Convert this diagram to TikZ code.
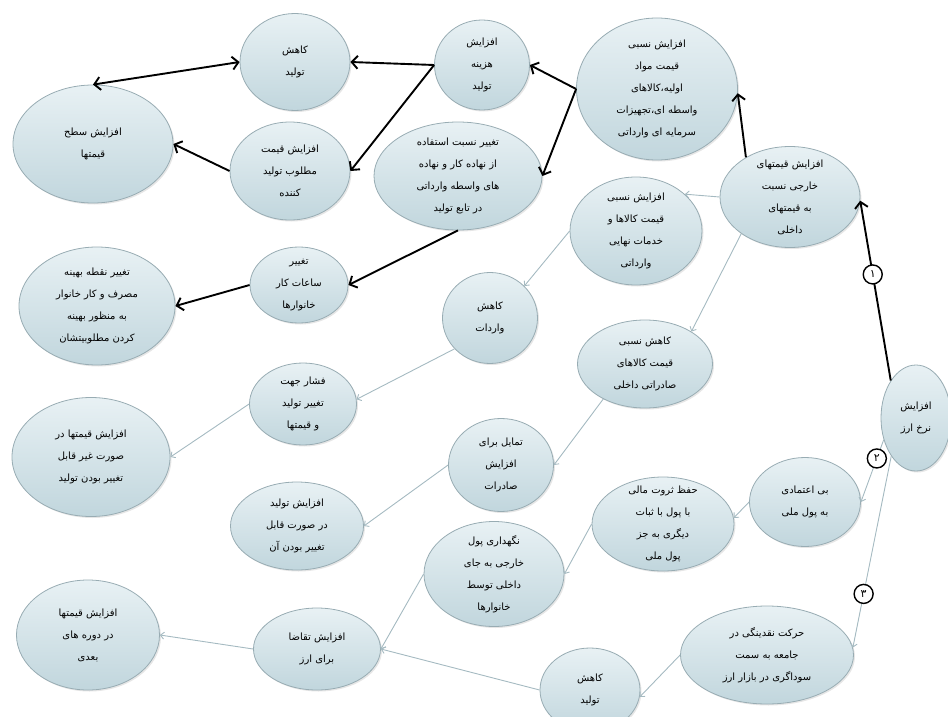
\documentclass[tikz,border=0pt]{standalone}
\usepackage{fontspec}
\usetikzlibrary{shapes.geometric,arrows.meta,shadows}
\newfontfamily\fa[Script=Arabic]{DejaVu Sans}
\TeXXeTstate=1
\newcommand{\rl}[1]{\beginR #1\endR}
\definecolor{bubtop}{HTML}{E8F1F4}
\definecolor{bubbot}{HTML}{C1D6DD}
\definecolor{bubline}{HTML}{98ACB3}
\definecolor{thinline}{HTML}{A5BAC1}
\begin{document}
\begin{tikzpicture}[x=1pt, y=-1pt,
	bub/.style 2 args={ellipse, draw=bubline, line width=0.8pt, top color=bubtop, bottom color=bubbot,
		drop shadow={opacity=0.2, shadow xshift=1.5pt, shadow yshift=-1.5pt},
		minimum width=#1, minimum height=#2, inner xsep=0pt, inner ysep=-6pt, align=center,
		font={\fa\fontsize{10}{22}\selectfont}},
	strong/.style={-{Straight Barb[length=6pt,width=13pt]}, line width=1.9pt},
	weak/.style={-{Straight Barb[length=3.5pt,width=7pt]}, draw=thinline, line width=0.9pt},
	num/.style={circle, draw=black, text=black, fill=white, line width=1.4pt, inner sep=0pt, minimum size=19pt,
		font={\fa\fontsize{11}{11}\selectfont}}]
		\useasboundingbox (0,0) rectangle (948,717);
		\node[bub={110}{97}] (kahesh1) at (295,62) {\rl{کاهش}\\\rl{تولید}};
		\node[bub={95}{90}] (hazine) at (482,65) {\rl{افزایش}\\\rl{هزینه}\\\rl{تولید}};
		\node[bub={161}{142}] (mawad) at (657,89) {\rl{افزایش نسبی}\\\rl{قیمت مواد}\\\rl{اولیه،کالاهای}\\\rl{واسطه ای،تجهیزات}\\\rl{سرمایه ای وارداتی}};
		\node[bub={160}{118}] (sath) at (93,144) {\rl{افزایش سطح}\\\rl{قیمتها}};
		\node[bub={120}{98}] (motlub) at (290,171) {\rl{افزایش قیمت}\\\rl{مطلوب تولید}\\\rl{کننده}};
		\node[bub={168}{108}] (nesbat) at (458,176) {\rl{تغییر نسبت استفاده}\\\rl{از نهاده کار و نهاده}\\\rl{های واسطه وارداتی}\\\rl{در تابع تولید}};
		\node[bub={140}{101}] (khareji) at (790,197) {\rl{افزایش قیمتهای}\\\rl{خارجی نسبت}\\\rl{به قیمتهای}\\\rl{داخلی}};
		\node[bub={132}{108}] (nahayi) at (636,231) {\rl{افزایش نسبی}\\\rl{قیمت کالاها و}\\\rl{خدمات نهایی}\\\rl{وارداتی}};
		\node[bub={98}{76}] (saat) at (299,285) {\rl{تغییر}\\\rl{ساعات کار}\\\rl{خانوارها}};
		\node[bub={156}{118}] (behine) at (97,306) {\rl{تغییر نقطه بهینه}\\\rl{مصرف و کار خانوار}\\\rl{به منظور بهینه}\\\rl{کردن مطلوبیتشان}};
		\node[bub={95}{91}] (varedat) at (490,318) {\rl{کاهش}\\\rl{واردات}};
		\node[bub={135}{88}] (saderati) at (645,364) {\rl{کاهش نسبی}\\\rl{قیمت کالاهای}\\\rl{صادراتی داخلی}};
		\node[bub={70}{106}] (nerkh) at (916,418) {\rl{افزایش}\\\rl{نرخ ارز}};
		\node[bub={107}{82}] (feshar) at (303,404) {\rl{فشار جهت}\\\rl{تغییر تولید}\\\rl{و قیمتها}};
		\node[bub={158}{119}] (gheir) at (91,457) {\rl{افزایش قیمتها در}\\\rl{صورت غیر قابل}\\\rl{تغییر بودن تولید}};
		\node[bub={105}{93}] (tamayol) at (501,465) {\rl{تمایل برای}\\\rl{افزایش}\\\rl{صادرات}};
		\node[bub={111}{89}] (bietemadi) at (805,502) {\rl{بی اعتمادی}\\\rl{به پول ملی}};
		\node[bub={142}{94}] (hefz) at (663,524) {\rl{حفظ ثروت مالی}\\\rl{با پول با ثبات}\\\rl{دیگری به جز}\\\rl{پول ملی}};
		\node[bub={133}{88}] (afztolid) at (297,526) {\rl{افزایش تولید}\\\rl{در صورت قابل}\\\rl{تغییر بودن آن}};
		\node[bub={140}{105}] (negahdari) at (494,574) {\rl{نگهداری پول}\\\rl{خارجی به جای}\\\rl{داخلی توسط}\\\rl{خانوارها}};
		\node[bub={143}{110}] (doreh) at (88,635) {\rl{افزایش قیمتها}\\\rl{در دوره های}\\\rl{بعدی}};
		\node[bub={127}{82}] (taghaza) at (317,649) {\rl{افزایش تقاضا}\\\rl{برای ارز}};
		\node[bub={173}{98}] (harakat) at (767,655) {\rl{حرکت نقدینگی در}\\\rl{جامعه به سمت}\\\rl{سوداگری در بازار ارز}};
		\node[bub={100}{84}] (kahesh2) at (590,690) {\rl{کاهش}\\\rl{تولید}};
		\draw[strong] (nerkh.124) -- node[num, pos=0.59] {۱} (khareji.-3);
		\draw[strong] (khareji.138) -- (mawad.-3);
		\draw[strong] (mawad.west) -- (hazine.east);
		\draw[strong] (mawad.west) -- (nesbat.east);
		\draw[strong] (hazine.west) -- (kahesh1.east);
		\draw[strong] (hazine.west) -- (motlub.east);
		\draw[strong, {Straight Barb[length=6pt,width=13pt]}-{Straight Barb[length=6pt,width=13pt]}] (kahesh1.west) -- (sath.north);
		\draw[strong] (motlub.west) -- (sath.east);
		\draw[strong] (nesbat.south) -- (saat.east);
		\draw[strong] (saat.west) -- (behine.east);
		\draw[weak] (khareji.west) -- (nahayi.37);
		\draw[weak] (khareji.217) -- (saderati.35);
		\draw[weak] (nahayi.west) -- (varedat.43);
		\draw[weak] (varedat.221) -- (feshar.5);
		\draw[weak] (feshar.west) -- (gheir.east);
		\draw[weak] (saderati.220) -- (tamayol.east);
		\draw[weak] (tamayol.west) -- (afztolid.east);
		\draw[weak] (nerkh.214) -- node[num, pos=0.3] {۲} (bietemadi.east);
		\draw[weak] (bietemadi.west) -- (hefz.5);
		\draw[weak] (hefz.west) -- (negahdari.east);
		\draw[weak] (negahdari.west) -- (taghaza.east);
		\draw[weak] (nerkh.237) -- node[num, pos=0.72] {۳} (harakat.5);
		\draw[weak] (harakat.west) -- (kahesh2.-8);
		\draw[weak] (kahesh2.west) -- (taghaza.east);
		\draw[weak] (taghaza.west) -- (doreh.east);
	\end{tikzpicture}
\end{document}
